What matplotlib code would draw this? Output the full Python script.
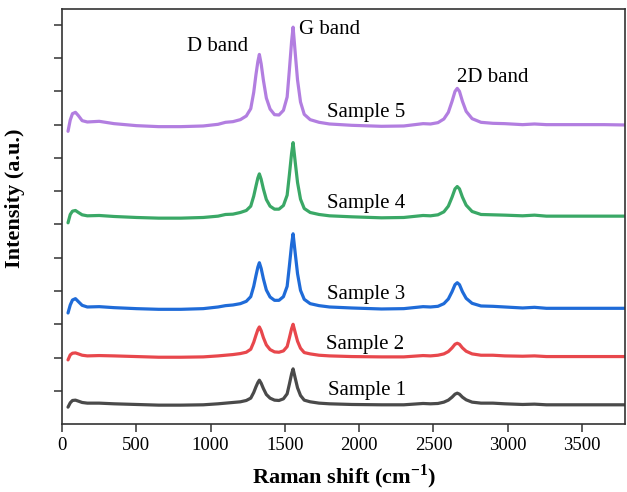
import matplotlib
matplotlib.use('Agg')
import matplotlib.pyplot as plt

plt.rcParams['font.family'] = ['Liberation Serif', 'DejaVu Serif']
plt.rcParams['mathtext.fontset'] = 'custom'
plt.rcParams['mathtext.rm'] = 'Liberation Serif'
plt.rcParams['mathtext.bf'] = 'Liberation Serif:bold'

# Raman shift (cm-1), shared by all spectra
shift = [40, 55, 70, 90, 110, 135, 170, 250, 350, 500,
         650, 800, 950, 1050, 1100, 1150, 1200, 1240, 1270, 1290,
         1305, 1318, 1328, 1340, 1355, 1375, 1400, 1430, 1460, 1490,
         1515, 1530, 1545, 1555, 1570, 1585, 1605, 1630, 1670, 1730,
         1800, 1950, 2150, 2300, 2430, 2480, 2530, 2570, 2600, 2625,
         2645, 2660, 2675, 2695, 2720, 2760, 2820, 2900, 2980, 3100,
         3180, 3260, 3450, 3650, 3790]

# stacked intensities (a.u.)
sample1 = [0.51, 0.64, 0.71, 0.72, 0.69, 0.65, 0.63, 0.63, 0.61, 0.59,
           0.57, 0.57, 0.58, 0.61, 0.63, 0.65, 0.67, 0.71, 0.78, 0.95,
           1.12, 1.25, 1.32, 1.23, 1.07, 0.89, 0.78, 0.72, 0.71, 0.76,
           0.91, 1.20, 1.51, 1.66, 1.37, 1.09, 0.86, 0.72, 0.67, 0.63,
           0.61, 0.59, 0.58, 0.58, 0.62, 0.61, 0.62, 0.66, 0.72, 0.81,
           0.90, 0.93, 0.90, 0.81, 0.73, 0.66, 0.63, 0.63, 0.61, 0.59,
           0.60, 0.58, 0.58, 0.58, 0.58]
sample2 = [1.93, 2.08, 2.13, 2.14, 2.11, 2.07, 2.05, 2.06, 2.05, 2.03,
           2.01, 2.01, 2.02, 2.05, 2.07, 2.09, 2.12, 2.16, 2.25, 2.46,
           2.67, 2.84, 2.92, 2.81, 2.60, 2.38, 2.24, 2.17, 2.16, 2.20,
           2.33, 2.59, 2.87, 3.00, 2.74, 2.49, 2.28, 2.15, 2.11, 2.07,
           2.05, 2.03, 2.02, 2.02, 2.06, 2.05, 2.07, 2.11, 2.18, 2.29,
           2.40, 2.43, 2.40, 2.29, 2.19, 2.11, 2.07, 2.07, 2.05, 2.04,
           2.05, 2.03, 2.03, 2.03, 2.03]
sample3 = [3.34, 3.58, 3.73, 3.77, 3.68, 3.57, 3.52, 3.53, 3.50, 3.47,
           3.45, 3.45, 3.47, 3.52, 3.56, 3.58, 3.62, 3.69, 3.83, 4.14,
           4.46, 4.72, 4.85, 4.68, 4.37, 4.03, 3.82, 3.72, 3.72, 3.83,
           4.14, 4.75, 5.40, 5.72, 5.11, 4.52, 4.02, 3.75, 3.62, 3.56,
           3.52, 3.49, 3.46, 3.47, 3.53, 3.52, 3.54, 3.62, 3.76, 3.98,
           4.19, 4.25, 4.19, 3.98, 3.78, 3.63, 3.55, 3.54, 3.52, 3.49,
           3.51, 3.48, 3.48, 3.48, 3.48]
sample4 = [6.05, 6.30, 6.40, 6.42, 6.36, 6.29, 6.26, 6.27, 6.24, 6.21,
           6.19, 6.19, 6.21, 6.25, 6.30, 6.31, 6.36, 6.42, 6.55, 6.85,
           7.15, 7.40, 7.52, 7.36, 7.07, 6.75, 6.55, 6.46, 6.46, 6.57,
           6.88, 7.49, 8.14, 8.46, 7.85, 7.26, 6.76, 6.48, 6.36, 6.30,
           6.26, 6.23, 6.20, 6.21, 6.27, 6.26, 6.29, 6.38, 6.55, 6.82,
           7.07, 7.14, 7.07, 6.82, 6.58, 6.39, 6.30, 6.29, 6.28, 6.26,
           6.28, 6.25, 6.25, 6.25, 6.25]
sample5 = [8.80, 9.14, 9.33, 9.37, 9.27, 9.12, 9.08, 9.10, 9.03, 8.97,
           8.94, 8.94, 8.96, 9.01, 9.07, 9.09, 9.15, 9.26, 9.48, 9.97,
           10.50, 10.90, 11.11, 10.83, 10.34, 9.80, 9.47, 9.30, 9.29, 9.43,
           9.83, 10.64, 11.50, 11.93, 11.12, 10.34, 9.68, 9.31, 9.15, 9.07,
           9.02, 8.98, 8.95, 8.96, 9.03, 9.02, 9.06, 9.17, 9.37, 9.70,
           10.00, 10.09, 10.00, 9.70, 9.40, 9.18, 9.07, 9.04, 9.03, 9.00,
           9.02, 9.00, 9.00, 9.00, 8.99]

spectra = [sample1, sample2, sample3, sample4, sample5]
names = ['Sample 1', 'Sample 2', 'Sample 3', 'Sample 4', 'Sample 5']
colors = ['#4a4a4a', '#e8474c', '#1f6bd8', '#3aa866', '#b27ee0']
name_pos = [(2050, 1.02), (2040, 2.38), (2050, 3.89), (2050, 6.63), (2045, 9.37)]

fig = plt.figure(figsize=(6.27, 4.92), dpi=100)
ax = fig.add_axes([0.099, 0.138, 0.898, 0.844])

for y, c in zip(spectra, colors):
    ax.plot(shift, y, color=c, lw=2.3, solid_joinstyle='round', solid_capstyle='round')

for (tx, ty), n in zip(name_pos, names):
    ax.text(tx, ty, n, ha='center', va='center', fontsize=15)

ax.text(1045, 11.36, 'D band', ha='center', va='center', fontsize=15)
ax.text(1800, 11.87, 'G band', ha='center', va='center', fontsize=15)
ax.text(2900, 10.42, '2D band', ha='center', va='center', fontsize=15)

ax.set_xlim(0, 3790)
ax.set_ylim(0, 12.48)
ax.set_xticks(range(0, 4000, 500))
ax.set_yticks(range(1, 13))
ax.set_yticklabels([])
ax.tick_params(direction='out', length=6, width=1.1, labelsize=13.5, color='#333333')
for s in ax.spines.values():
    s.set_linewidth(1.2)
    s.set_color('#333333')

ax.set_xlabel('Raman shift (cm$^{\\mathbf{-1}}$)', fontsize=16, fontweight='bold', labelpad=6)
ax.set_ylabel('Intensity (a.u.)', fontsize=16, fontweight='bold')
ax.yaxis.set_label_coords(-0.066, 0.545)

fig.savefig('out.png', dpi=100)
